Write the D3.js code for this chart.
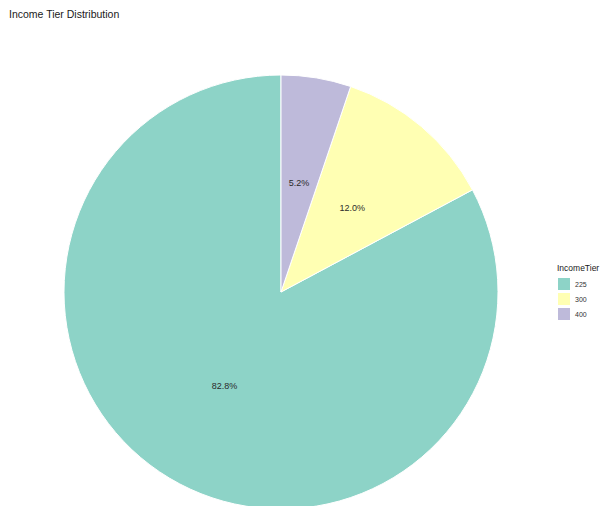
<!DOCTYPE html>
<html><head><meta charset="utf-8">
<script src="https://cdn.jsdelivr.net/npm/d3@7"></script>
<style>body{margin:0;background:#fff;}svg{display:block;font-family:"Liberation Sans",Arial,sans-serif;}</style>
</head><body>
<script>
const categories = ["225", "300", "400"];
const shares = [82.8, 12.0, 5.2];
const colors = ["#8DD3C7", "#FFFFB3", "#BEBADA"];
const title = "Income Tier Distribution";
const legendTitle = "IncomeTier";

const W = 601, H = 506;
const svg = d3.select("body").append("svg").attr("width", W).attr("height", H);
svg.append("rect").attr("width", W).attr("height", H).attr("fill", "#fff");

const cx = 281, cy = 292, R = 217;
const color = d3.scaleOrdinal().domain(categories).range(colors);
const data = categories.map((c, i) => ({cat: c, v: shares[i]}));
// order clockwise from top: 400, 300, 225
const drawOrder = ["400", "300", "225"];
const pie = d3.pie().value(d => d.v).sort((a, b) => drawOrder.indexOf(a.cat) - drawOrder.indexOf(b.cat));
const arcs = pie(data);
const arc = d3.arc().innerRadius(0).outerRadius(R);
const labelArc = d3.arc().innerRadius(R * 0.507).outerRadius(R * 0.507);

const g = svg.append("g").attr("transform", `translate(${cx},${cy})`);
g.selectAll("path").data(arcs).join("path")
  .attr("d", arc).attr("fill", d => color(d.data.cat))
  .attr("stroke", "#fff").attr("stroke-width", 1);
g.selectAll("text").data(arcs).join("text")
  .attr("transform", d => `translate(${labelArc.centroid(d)})`)
  .attr("text-anchor", "middle").attr("dominant-baseline", "central")
  .attr("font-size", 9).attr("fill", "#2b2b2b")
  .text(d => d.data.v.toFixed(1) + "%");

svg.append("text").attr("x", 9).attr("y", 18).attr("font-size", 10.5).attr("fill", "#1a1a1a").text(title);

const lg = svg.append("g").attr("transform", "translate(557,0)");
lg.append("text").attr("x", 0).attr("y", 271).attr("font-size", 8.5).attr("fill", "#1a1a1a").text(legendTitle);
const keys = lg.selectAll("g.k").data(categories).join("g").attr("class", "k")
  .attr("transform", (d, i) => `translate(1,${278 + i * 15})`);
keys.append("rect").attr("width", 12).attr("height", 12).attr("fill", d => color(d));
keys.append("text").attr("x", 17).attr("y", 6).attr("dominant-baseline", "central")
  .attr("font-size", 7).attr("fill", "#333").text(d => d);
</script>
</body></html>
